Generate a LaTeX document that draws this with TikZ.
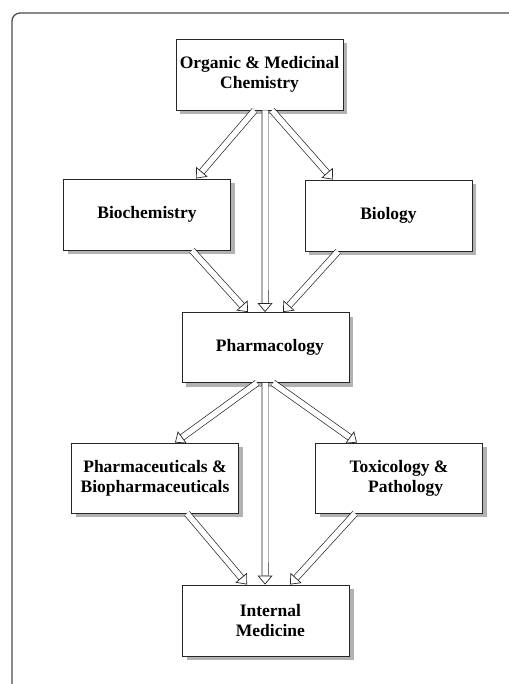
\documentclass[tikz,border=0pt]{standalone}
\usepackage{fontspec}
\setmainfont{Liberation Serif}
\usetikzlibrary{arrows.meta,positioning,shadows}

\begin{document}
\begin{tikzpicture}[x=1pt, y=-1pt,
    stage/.style={draw=black!85, line width=0.9pt, fill=white, minimum width=167pt, minimum height=71pt,
        align=center, font=\fontsize{17.5}{20}\selectfont\bfseries,
        drop shadow={shadow xshift=4pt, shadow yshift=-4pt, fill=black!30, opacity=1}},
    flow/.style={draw=black!85, double=white, double distance=5.5pt, line width=0.7pt,
        -{Triangle[fill=white, line width=0.7pt, length=9pt, width=15pt]}}]
    \useasboundingbox (0,0) rectangle (508,684);

    % Outer frame
    \draw[black!70, line width=1.3pt, rounded corners=8pt] (12,690) |- (530,13);

    % Stages
    \node[stage] (orgchem) at (259.5,74.5) {Organic \& Medicinal\\Chemistry};
    \node[stage] (biochem) at (147,214.5) {Biochemistry};
    \node[stage] (biology) at (388.5,215.5) {Biology};
    \node[stage, minimum height=70pt] (pharmacol) at (265.5,347.5) {\ \ Pharmacology};
    \node[stage, minimum height=70pt] (pharmaceut) at (155,478) {Pharmaceuticals \&\\Biopharmaceuticals};
    \node[stage, minimum height=70pt] (toxpath) at (399,478) {Toxicology \&\\\ \ \ Pathology};
    \node[stage] (internal) at (266,620.5) {\ \ Internal\\\ \ Medicine};

    % Arrows from chemistry
    \draw[flow] ([xshift=-5pt]orgchem.south) -- ([xshift=49pt]biochem.north);
    \draw[flow] ([xshift=5.5pt]orgchem.south) -- ([xshift=-0.45pt]pharmacol.north);
    \draw[flow] ([xshift=12.5pt]orgchem.south) -- ([xshift=-55.5pt]biology.north);

    % Arrows into pharmacology
    \draw[flow] ([xshift=45pt]biochem.south) -- ([xshift=-17.5pt]pharmacol.north);
    \draw[flow] ([xshift=-50.5pt]biology.south) -- ([xshift=17.5pt]pharmacol.north);

    % Arrows from pharmacology
    \draw[flow] ([xshift=-8.5pt]pharmacol.south) -- ([xshift=20pt]pharmaceut.north);
    \draw[flow] ([xshift=-0.5pt]pharmacol.south) -- ([xshift=-0.95pt]internal.north);
    \draw[flow] ([xshift=7.5pt]pharmacol.south) -- ([xshift=-42pt]toxpath.north);

    % Arrows into internal medicine
    \draw[flow] ([xshift=32pt]pharmaceut.south) -- ([xshift=-19pt]internal.north);
    \draw[flow] ([xshift=-44pt]toxpath.south) -- ([xshift=24pt]internal.north);
\end{tikzpicture}
\end{document}
